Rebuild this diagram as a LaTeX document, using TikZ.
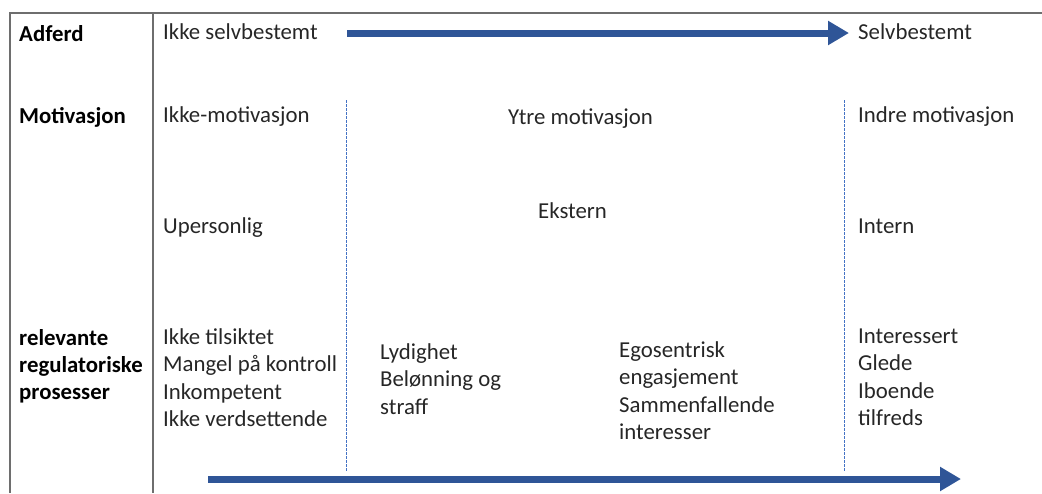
\documentclass[tikz,border=0pt]{standalone}
\usepackage{fontspec}
\setmainfont{Carlito}
\usetikzlibrary{arrows.meta}
\definecolor{txt}{HTML}{262626}
\definecolor{frame}{HTML}{6E6E6E}
\definecolor{arrowblue}{HTML}{2F5597}
\definecolor{dashblue}{HTML}{4472C4}
\tikzset{
  lbl/.style={anchor=base west, inner sep=0pt, text=txt, font=\fontsize{22.8}{27}\selectfont},
  head/.style={lbl, text=black, font=\fontsize{22.8}{27}\selectfont\bfseries},
  frameline/.style={draw=frame, line width=1.6pt},
  divider/.style={draw=dashblue, line width=0.8pt, dash pattern=on 2.5pt off 1.5pt},
  bigarrow/.style={draw=arrowblue, line width=7pt, -{Triangle[length=21pt,width=23pt]}}
}
\begin{document}
\begin{tikzpicture}[x=1pt,y=-1pt]
\useasboundingbox (0,0) rectangle (1042,493);
% frame
\coordinate (tl) at (10,13);
\coordinate (tr) at (1042,13);
\coordinate (bl) at (10,493);
\coordinate (tm) at (153,13);
\coordinate (bm) at (153,493);
\draw[frameline] (bl) -- (tl) -- (tr);
\draw[frameline] (tm) -- (bm);
% dashed dividers
\coordinate (d1t) at (346,100);
\coordinate (d1b) at (346,472);
\coordinate (d2t) at (844,100);
\coordinate (d2b) at (844,472);
\draw[divider] (d1t) -- (d1b);
\draw[divider] (d2t) -- (d2b);
% arrows
\coordinate (a1s) at (347,33);
\coordinate (a1e) at (849,33);
\draw[bigarrow] (a1s) -- (a1e);
\coordinate (a2s) at (208,479);
\coordinate (a2e) at (961,479);
\draw[bigarrow] (a2s) -- (a2e);
% row headers
\node[head] (hAdferd) at (19,41) {Adferd};
\node[head] (hMotiv) at (19,123.5) {Motivasjon};
\node[head] (hRel1) at (19,345.5) {relevante};
\node[head] (hRel2) at (19,372.5) {regulatoriske};
\node[head] (hRel3) at (19,399.5) {prosesser};
% row 1
\node[lbl] (ikkeSelv) at (163,39.5) {Ikke selvbestemt};
\node[lbl] (selv) at (858,39.5) {Selvbestemt};
% row 2
\node[lbl] (ikkeMot) at (163,122) {Ikke-motivasjon};
\node[lbl] (ytre) at (508,124.5) {Ytre motivasjon};
\node[lbl] (indre) at (858,122) {Indre motivasjon};
% row 3
\node[lbl] (upers) at (163,233) {Upersonlig};
\node[lbl] (ekstern) at (538,218) {Ekstern};
\node[lbl] (intern) at (858,233) {Intern};
% row 4 column 1
\node[lbl] (c1a) at (163,344) {Ikke tilsiktet};
\node[lbl] (c1b) at (163,371.5) {Mangel på kontroll};
\node[lbl] (c1c) at (163,399) {Inkompetent};
\node[lbl] (c1d) at (163,426.5) {Ikke verdsettende};
% column 2
\node[lbl] (c2a) at (380,359) {Lydighet};
\node[lbl] (c2b) at (380,386.5) {Belønning og};
\node[lbl] (c2c) at (380,414) {straff};
% column 3
\node[lbl] (c3a) at (619,357) {Egosentrisk};
\node[lbl] (c3b) at (619,384.5) {engasjement};
\node[lbl] (c3c) at (619,412) {Sammenfallende};
\node[lbl] (c3d) at (619,439.5) {interesser};
% column 4
\node[lbl] (c4a) at (858,343) {Interessert};
\node[lbl] (c4b) at (858,370.5) {Glede};
\node[lbl] (c4c) at (858,398) {Iboende};
\node[lbl] (c4d) at (858,425.5) {tilfreds};
\end{tikzpicture}
\end{document}
